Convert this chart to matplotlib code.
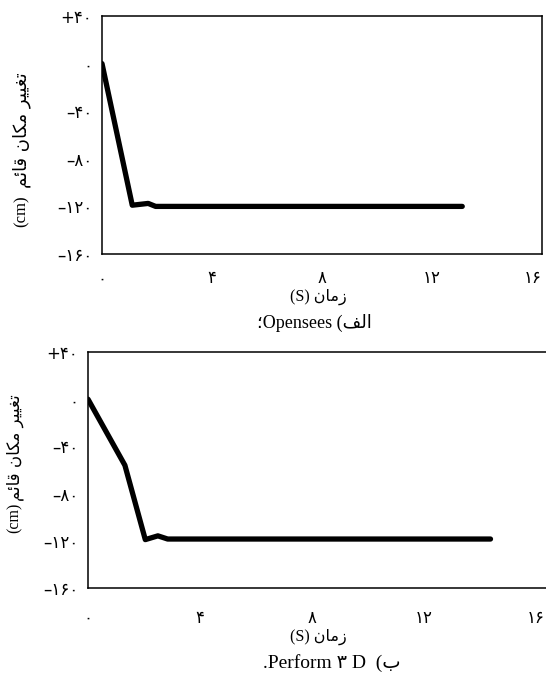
import matplotlib
matplotlib.use("Agg")
import matplotlib.pyplot as plt

# ---- data ----
time_opensees = [0, 1.1, 1.68, 1.95, 13.1]
disp_opensees = [0, -119, -117.5, -120, -120]

time_perform = [0, 1.32, 2.05, 2.5, 2.85, 14.4]
disp_perform = [0, -56, -119, -115.8, -118.5, -118.5]

yticks = [40, 0, -40, -80, -120, -160]
ytick_labels = ["+\u06F4\u06F0", "\u06F0", "\u2013\u06F4\u06F0", "\u2013\u06F8\u06F0",
                "\u2013\u06F1\u06F2\u06F0", "\u2013\u06F1\u06F6\u06F0"]
xticks = [0, 4, 8, 12, 16]
xtick_labels = ["\u06F0", "\u06F4", "\u06F8", "\u06F1\u06F2", "\u06F1\u06F6"]

# Persian texts written in visual (left-to-right) order with presentation forms
w_taghyir = "\uFEAE\uFEF4\uFEF4\uFED0\uFE97"
w_makan = "\uFEE5\uFE8E\uFB91\uFEE3"
w_ghaem = "\uFEE2\uFE8B\uFE8E\uFED7"
ylabel_fa = w_ghaem + " " + w_makan + " " + w_taghyir
ylabel_unit = "(cm)"
xlabel_text = "(S) " + "\uFEE5\uFE8E\uFEE3\uFEAF"
caption_top = "\u061BOpensees (" + "\uFED2\uFEDF\uFE8D"
caption_bottom = ".Perform \u06F3 D  (" + "\uFE8F"

W, H = 546, 675
fig = plt.figure(figsize=(W / 100, H / 100), dpi=100)
fig.patch.set_facecolor("white")

mixed = ["Liberation Serif", "DejaVu Sans"]


def px(x, y):
    return x / W, 1 - y / H


def make_axes(left, right, top, bottom, xmax, t, d, tick_pad_x, last_right):
    ax = fig.add_axes([left / W, 1 - bottom / H, (right - left) / W, (bottom - top) / H])
    ax.plot(t, d, color="black", lw=3.8, solid_capstyle="round", solid_joinstyle="round")
    ax.set_xlim(0, xmax)
    ax.set_ylim(-160, 40)
    ax.set_yticks(yticks)
    ax.set_yticklabels(ytick_labels, fontsize=12, family="DejaVu Sans")
    ax.set_xticks(xticks)
    labs = ax.set_xticklabels(xtick_labels, fontsize=12, family="DejaVu Sans")
    if last_right:
        labs[-1].set_ha("right")
    ax.tick_params(axis="both", length=0)
    ax.tick_params(axis="y", pad=7)
    ax.tick_params(axis="x", pad=tick_pad_x)
    for s in ax.spines.values():
        s.set_linewidth(1.1)
        s.set_color("black")
    return ax


ax1 = make_axes(102, 542, 16, 254, 16, time_opensees, disp_opensees, 11, True)
ax2 = make_axes(88, 552, 352, 588, 16.6, time_perform, disp_perform, 15, False)

# y labels
fig.text(*px(22, 130), ylabel_fa, rotation=90, ha="center", va="center",
         fontsize=13, family="DejaVu Sans")
fig.text(*px(22, 211), ylabel_unit, rotation=90, ha="center", va="center",
         fontsize=12, family="Liberation Serif")
fig.text(*px(15, 448), ylabel_fa, rotation=90, ha="center", va="center",
         fontsize=12, family="DejaVu Sans")
fig.text(*px(15, 518), ylabel_unit, rotation=90, ha="center", va="center",
         fontsize=11.5, family="Liberation Serif")

# x labels
fig.text(*px(318, 297), xlabel_text, ha="center", va="center", fontsize=11.5, family=mixed)
fig.text(*px(318, 637), xlabel_text, ha="center", va="center", fontsize=11.5, family=mixed)

# captions
fig.text(*px(314, 323), caption_top, ha="center", va="center", fontsize=13, family=mixed)
fig.text(*px(332, 663), caption_bottom, ha="center", va="center", fontsize=14, family=mixed)

fig.savefig("out.png", dpi=100, facecolor="white")
